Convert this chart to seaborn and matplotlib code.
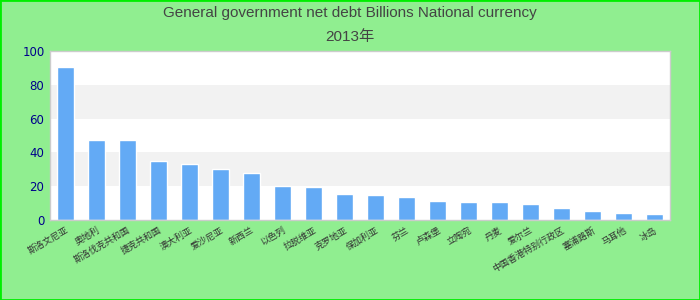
import matplotlib
matplotlib.use("Agg")
import matplotlib.pyplot as plt
import seaborn as sns
import pandas as pd

countries = ["斯洛文尼亚", "奥地利", "斯洛伐克共和国", "捷克共和国", "澳大利亚",
             "爱沙尼亚", "新西兰", "以色列", "拉脱维亚", "克罗地亚",
             "保加利亚", "芬兰", "卢森堡", "立陶宛", "丹麦",
             "爱尔兰", "中国香港特别行政区", "塞浦路斯", "马耳他", "冰岛"]
values = [90.5, 47.5, 47.5, 35.0, 33.3, 30.3, 28.0, 20.3, 19.6, 15.6,
          15.0, 13.6, 11.3, 10.7, 10.6, 9.5, 7.0, 5.3, 4.2, 3.6]
yticks = [0, 20, 40, 60, 80, 100]
title_line1 = "General government net debt Billions National currency"
title_line2 = "2013年"

df = pd.DataFrame({"country": countries, "value": values})

sns.set_theme(style="white")
plt.rcParams["font.family"] = ["Liberation Sans", "Noto Sans CJK SC", "DejaVu Sans"]

bg = "#90EE90"
fig = plt.figure(figsize=(7, 3), dpi=100, facecolor=bg)
ax = fig.add_axes([50/700, 1 - 220/300, 620/700, 169/300])
ax.set_facecolor("white")

sns.barplot(data=df, x="country", y="value", color="#63aaf5", saturation=1,
            width=0.55, ax=ax, zorder=2)

ax.set_ylim(0, 100)
ax.set_xlim(-0.5, len(countries) - 0.5)

# alternating bands (full width, axes-x coordinates)
for i in range(len(yticks) - 1):
    if i % 2 == 1:
        ax.fill_between([0, 1], yticks[i], yticks[i + 1],
                        transform=ax.get_yaxis_transform(),
                        color="#f2f2f2", zorder=0.5, lw=0)

ax.set_yticks(yticks)
ax.set_yticklabels([str(t) for t in yticks], color="#00008B", fontsize=8.5,
                   family=["DejaVu Sans"])
ax.set_xlabel("")
ax.set_ylabel("")
ax.tick_params(axis="both", length=0, pad=4)
ax.set_xticks(range(len(countries)))
ax.set_xticklabels(countries, rotation=30, ha="right", rotation_mode="anchor",
                   fontsize=6.5, color="#333333",
                   family=["Noto Sans CJK SC", "DejaVu Sans"])
for s in ax.spines.values():
    s.set_color("#cccccc")
    s.set_linewidth(1)

fig.text(0.5, 1 - 13/300, title_line1, ha="center", va="center",
         fontsize=11, color="#444444")
fig.text(0.5, 1 - 37/300, title_line2, ha="center", va="center",
         fontsize=11, color="#444444",
         family=["Liberation Sans", "Noto Sans CJK SC"])

# figure border
border = plt.Rectangle((0, 0), 1, 1, transform=fig.transFigure, fill=False,
                       edgecolor="#00ee00", lw=2, zorder=10)
fig.patches.append(border)

fig.savefig("out.png", dpi=100, facecolor=bg)
